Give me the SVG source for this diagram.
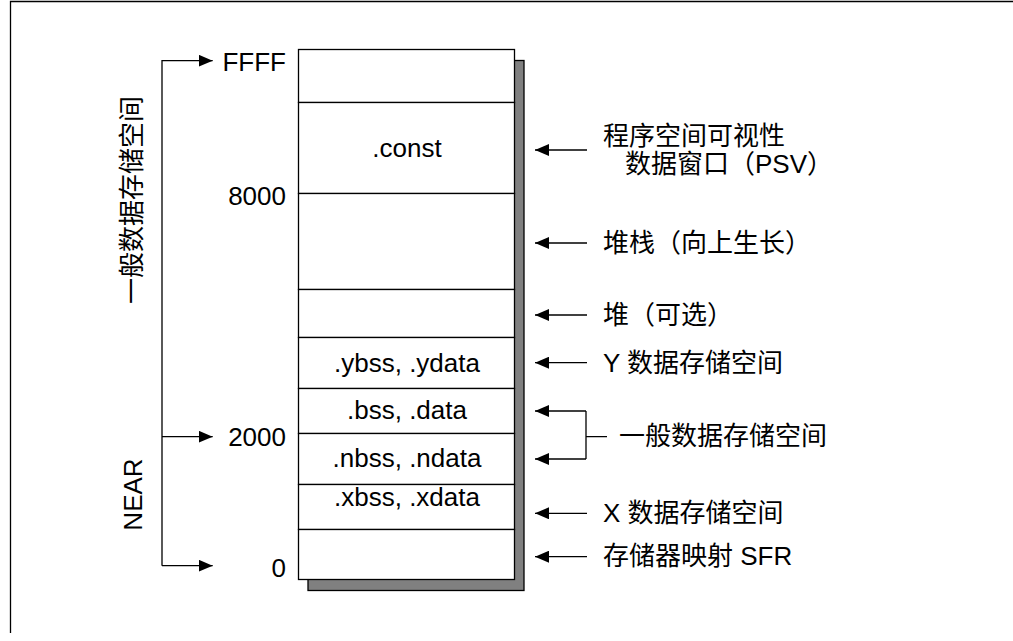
<svg xmlns="http://www.w3.org/2000/svg" width="1013" height="641" viewBox="0 0 1013 641">
<style>
.t{font-family:"Liberation Sans","Noto Sans CJK SC",sans-serif;font-size:26px;fill:#000}
.c{font-family:"Liberation Sans","Noto Sans CJK SC",sans-serif;font-size:26px;fill:#000}
.ln{stroke:#000;stroke-width:1.3;fill:none}
.cell{fill:#fff;stroke:#000;stroke-width:1.3}
</style>
<defs>
<marker id="ah" viewBox="0 0 14 12" refX="14" refY="6" markerWidth="14" markerHeight="12" markerUnits="userSpaceOnUse" orient="auto">
<path d="M0,0 L14,6 L0,12 Z" fill="#000"/>
</marker>
</defs>
<rect width="1013" height="641" fill="#fff"/>
<path d="M10.5,633 V1.5 H1013" class="ln" stroke-width="1.5"/>
<g id="memory">
<rect x="308" y="60.5" width="216" height="530" fill="#808080" stroke="#000" stroke-width="1.3"/>
<rect id="seg-top" x="298.5" y="49.5" width="216" height="53" class="cell"/>
<g id="seg-const"><rect x="298.5" y="102.5" width="216" height="91" class="cell"/><text class="t" x="407" y="156.5" text-anchor="middle">.const</text></g>
<rect id="seg-stack" x="298.5" y="193.5" width="216" height="96" class="cell"/>
<rect id="seg-heap" x="298.5" y="289.5" width="216" height="48" class="cell"/>
<g id="seg-y"><rect x="298.5" y="337.5" width="216" height="51" class="cell"/><text class="t" x="407" y="372" text-anchor="middle">.ybss, .ydata</text></g>
<g id="seg-bss"><rect x="298.5" y="388.5" width="216" height="45" class="cell"/><text class="t" x="407" y="419" text-anchor="middle">.bss, .data</text></g>
<g id="seg-nbss"><rect x="298.5" y="433.5" width="216" height="51" class="cell"/><text class="t" x="407" y="467" text-anchor="middle">.nbss, .ndata</text></g>
<g id="seg-x"><rect x="298.5" y="484.5" width="216" height="45" class="cell"/><text class="t" x="407" y="506" text-anchor="middle">.xbss, .xdata</text></g>
<rect id="seg-sfr" x="298.5" y="529.5" width="216" height="50" class="cell"/>
</g>
<g id="addresses">
<text class="t" x="286" y="71" text-anchor="end">FFFF</text>
<text class="t" x="286" y="205" text-anchor="end">8000</text>
<text class="t" x="286" y="446" text-anchor="end">2000</text>
<text class="t" x="286" y="577" text-anchor="end">0</text>
</g>
<g id="left-labels">
<text class="c" transform="translate(141,200) rotate(-90)" text-anchor="middle">一般数据存储空间</text>
<text class="c" transform="translate(142,494.5) rotate(-90)" text-anchor="middle">NEAR</text>
</g>
<g id="right-labels">
<text class="c" x="603" y="145">程序空间可视性</text>
<text class="c" x="625" y="173">数据窗口（PSV）</text>
<text class="c" x="603" y="252">堆栈（向上生长）</text>
<text class="c" x="603" y="323.5">堆（可选）</text>
<text class="c" x="603" y="371.5">Y 数据存储空间</text>
<text class="c" x="619" y="445">一般数据存储空间</text>
<text class="c" x="603" y="521.5">X 数据存储空间</text>
<text class="c" x="603" y="565">存储器映射 SFR</text>
</g>
<g id="connectors" class="ln">
<path d="M162,565.7 V60.7 H212.7" marker-end="url(#ah)"/>
<path d="M162,565.7 H212.7" marker-end="url(#ah)"/>
<path d="M162,436.7 H212.7" marker-end="url(#ah)"/>
<path d="M587,150 H535" marker-end="url(#ah)"/>
<path d="M587,243 H535" marker-end="url(#ah)"/>
<path d="M587,315 H535" marker-end="url(#ah)"/>
<path d="M587,362.7 H535" marker-end="url(#ah)"/>
<path d="M586,411 H535" marker-end="url(#ah)"/>
<path d="M586,459 H535" marker-end="url(#ah)"/>
<path d="M586,411 V459 M586,436.7 H607"/>
<path d="M587,513.3 H535" marker-end="url(#ah)"/>
<path d="M587,556.7 H535" marker-end="url(#ah)"/>
</g>
</svg>
